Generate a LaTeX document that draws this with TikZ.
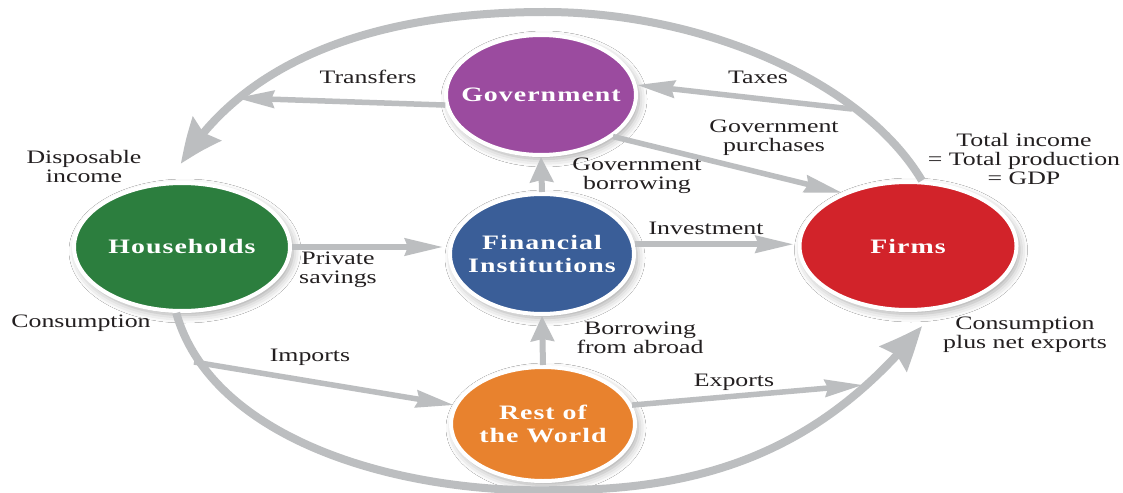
\documentclass[tikz,border=0pt]{standalone}
\usepackage{fontspec}
\setmainfont{Liberation Serif}
\newfontfamily\lblfont{Liberation Serif}[FakeStretch=1.36]
\newfontfamily\secfont{Liberation Serif}[FakeStretch=1.36,LetterSpace=5]
\usetikzlibrary{arrows.meta,bending,shapes.geometric,shadows.blur,calc}
\definecolor{agray}{HTML}{BCBEC0}
\definecolor{govc}{HTML}{9B4B9F}
\definecolor{hhc}{HTML}{2C7E3E}
\definecolor{finc}{HTML}{3A5E98}
\definecolor{firmc}{HTML}{D2232A}
\definecolor{rowc}{HTML}{E8822E}
\definecolor{txt}{HTML}{231F20}
\tikzset{
  sector/.style={ellipse, draw=white, line width=4pt, inner sep=0pt,
    blur shadow={shadow xshift=3pt, shadow yshift=-4pt, shadow blur radius=8pt, shadow opacity=35}},
  sectxt/.style={text=white, align=center, inner sep=0pt,
    font=\secfont\bfseries\fontsize{20.5}{23}\selectfont},
  lbl/.style={font=\lblfont\fontsize{19}{19}\selectfont, align=center, text=txt, inner sep=0pt},
  flow/.style={draw=agray, line width=5.5pt, -{Stealth[length=38pt,width=17pt,inset=3pt]}},
  vflow/.style={draw=agray, line width=6pt, -{Stealth[length=25pt,width=23pt,inset=2pt]}},
  bigflow/.style={draw=agray, line width=8pt, -{Stealth[length=44pt,width=36pt,inset=5pt,bend]}}
}
\begin{document}
\begin{tikzpicture}[x=1pt,y=-1pt]
\useasboundingbox (0,0) rectangle (1123,492);
\fill[white] (0,0) rectangle (1123,492);

% sectors
\node[sector, fill=govc, minimum width=190pt, minimum height=120pt,
  label={[sectxt]center:Government}] (gov) at (541,95) {};
\node[sector, fill=hhc, minimum width=216pt, minimum height=128pt,
  label={[sectxt]center:Households}] (hh) at (182,247) {};
\node[sector, fill=finc, minimum width=184pt, minimum height=120pt,
  label={[sectxt]center:Financial\\Institutions}] (fin) at (542,254) {};
\node[sector, fill=firmc, minimum width=217pt, minimum height=128pt,
  label={[sectxt]center:Firms}] (firms) at (908,246) {};
\node[sector, fill=rowc, minimum width=184pt, minimum height=114pt,
  label={[sectxt]center:Rest of\\the World}] (row) at (543,424) {};

% free ends
\coordinate (topT) at (545,12);
\coordinate (topE) at (181,164);
\coordinate (botM) at (560,490);
\coordinate (botE) at (922,326);
\coordinate (taxS) at (852,109);
\coordinate (trE) at (236,98);
\coordinate (impS) at (194,362);
\coordinate (expE) at (863,385);

% big loops
\draw[bigflow] (firms.78) .. controls (862,80) and (700,12) .. (topT)
   .. controls (390,12) and (250,52) .. (topE);
\draw[bigflow] (hh.265) .. controls (212,440) and (400,495) .. (botM)
   .. controls (720,490) and (830,440) .. (botE);

% flows
\draw[flow] (gov.186) -- (trE);
\draw[flow] (taxS) -- (gov.6);
\draw[flow] (gov.-30) -- (firms.141);
\draw[vflow] (fin.north) -- (gov.south);
\draw[flow] (hh.east) -- ($(hh.east -| fin.west)+(-5,0)$);
\draw[flow] (fin.6) -- ($(fin.6 -| firms.west)+(-4,0)$);
\draw[vflow] (row.north) -- (fin.south);
\draw[flow] (impS) -- (row.168);
\draw[flow] (row.12) -- (expE);

% labels
\node[lbl] (ltr) at (368,77) {Transfers};
\node[lbl] (ltax) at (758,77) {Taxes};
\node[lbl] (lgp) at (774,138) {Government\\purchases};
\node[lbl] (lgb) at (637,176) {Government\\borrowing};
\node[lbl] (ltot) at (1024,159) {Total income\\= Total production\\= GDP};
\node[lbl] (ldisp) at (84,167) {Disposable\\income};
\node[lbl] (lps) at (338,270) {Private\\savings};
\node[lbl] (linv) at (706,228) {Investment};
\node[lbl] (lcons) at (81,323) {Consumption};
\node[lbl] (limp) at (310,357) {Imports};
\node[lbl] (lbfa) at (640,338) {Borrowing\\from abroad};
\node[lbl] (lexp) at (734,382) {Exports};
\node[lbl] (lcnx) at (1025,335) {Consumption\\plus net exports};
\end{tikzpicture}
\end{document}
